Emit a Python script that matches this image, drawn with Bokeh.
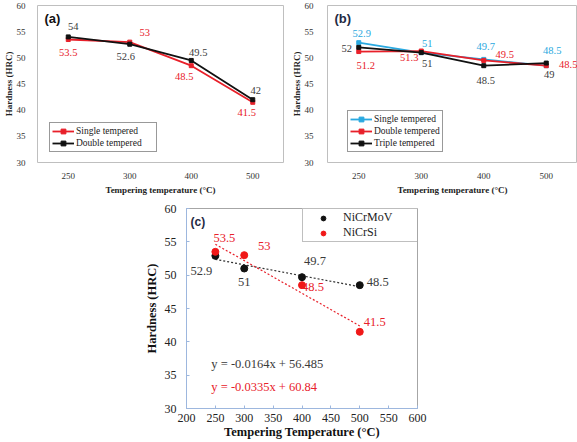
from bokeh.plotting import figure
from bokeh.models import Legend, LegendItem, Label, FactorRange, Range1d, Spacer
from bokeh.layouts import row, column
from bokeh.embed import file_html
from bokeh.resources import INLINE
from bokeh.core.properties import value
import numpy as np

# ---------------- data ----------------
temps_ab = ["250", "300", "400", "500"]
a_single = [53.5, 53.0, 48.5, 41.5]
a_double = [54.0, 52.6, 49.5, 42.0]
b_single = [52.9, 51.0, 49.7, 48.5]
b_double = [51.2, 51.3, 49.5, 48.5]
b_triple = [52.0, 51.0, 48.5, 49.0]
temps_c = [250, 300, 400, 500]
c_nicrmov = [52.9, 51.0, 49.7, 48.5]
c_nicrsi = [53.5, 53.0, 48.5, 41.5]
eq_nicrmov = "y = -0.0164x + 56.485"
eq_nicrsi = "y = -0.0335x + 60.84"
y_ticks = [30, 35, 40, 45, 50, 55, 60]
x_ticks_c = [200, 250, 300, 350, 400, 450, 500, 550, 600]

# ---------------- styles ----------------
SERIF = "Liberation Serif"
SANS = "Liberation Sans"
RED = "#E8202A"
BLACK = "#111111"
BLUE = "#2AA9E0"
DARK = "#3A3A3A"
NAVY = "#1F2A44"


def fmt(v):
    return f"{v:g}"


def style_ab(p):
    p.xgrid.visible = False
    p.ygrid.visible = False
    p.outline_line_color = "#BFBFBF"
    p.background_fill_color = "white"
    p.border_fill_color = "white"
    for ax in p.axis:
        ax.axis_line_color = None
        ax.major_tick_line_color = None
        ax.minor_tick_line_color = None
        ax.major_label_text_font = SERIF
        ax.major_label_text_font_size = "9px"
        ax.major_label_text_color = "#333333"
        ax.axis_label_text_font = SERIF
        ax.axis_label_text_font_style = "bold"
        ax.axis_label_text_font_size = "9px"
        ax.axis_label_text_color = "#222222"
    p.yaxis.ticker = y_ticks
    p.xaxis.major_label_standoff = 4
    p.xaxis.axis_label_standoff = 3
    p.yaxis.major_label_standoff = 6
    p.yaxis.axis_label_standoff = 0
    p.xaxis.axis_label = "Tempering temperature (°C)"
    p.yaxis.axis_label = "Hardness (HRC)"


def series_line(p, vals, color):
    ln = p.line(temps_ab, vals, line_color=color, line_width=1.8)
    sc = p.scatter(temps_ab, vals, marker="square", size=4, color=color)
    return [ln, sc]


def labels(p, xs, vals, color, dx, dy, size="10.5px"):
    p.text(x=xs, y=vals, text=[fmt(v) for v in vals], x_offset=dx, y_offset=dy,
           text_align="center", text_baseline="middle", text_font=value(SERIF),
           text_font_size=size, text_color=color)


def small_legend(items, loc, label_width):
    leg = Legend(items=items, location=loc, border_line_color="#333333", border_line_width=1,
                 label_text_font=SERIF, label_text_font_size="9.5px", label_text_color="#222222",
                 glyph_width=22, glyph_height=12, label_height=12, label_standoff=2,
                 label_width=label_width, padding=2, spacing=0, margin=0,
                 background_fill_alpha=1)
    return leg


# ---------------- panel (a) ----------------
pa = figure(x_range=FactorRange(factors=temps_ab), y_range=Range1d(30, 60), width=288, height=198,
            output_backend="svg", toolbar_location=None,
            min_border_left=25, min_border_right=5, min_border_top=5, min_border_bottom=36)
style_ab(pa)
ra1 = series_line(pa, a_single, RED)
ra2 = series_line(pa, a_double, BLACK)
labels(pa, temps_ab, a_single, RED, [0, 15, -7, -6], [13, -10, 11, 10])
labels(pa, temps_ab, a_double, DARK, [5, -4, 7, 3], [-10, 12, -8, -9])
pa.add_layout(small_legend([LegendItem(label="Single tempered", renderers=ra1),
                            LegendItem(label="Double tempered", renderers=ra2)], (12, 10), 78))
pa.add_layout(Label(x=7, y=144, x_units="screen", y_units="screen", text="(a)",
                    text_font=SANS, text_font_style="bold", text_font_size="13px",
                    text_baseline="middle", text_color=BLACK))

# ---------------- panel (b) ----------------
pb = figure(x_range=FactorRange(factors=temps_ab), y_range=Range1d(30, 60), width=289, height=198,
            output_backend="svg", toolbar_location=None,
            min_border_left=29, min_border_right=0, min_border_top=5, min_border_bottom=36)
style_ab(pb)
pb.yaxis.major_label_standoff = 8
rb1 = series_line(pb, b_single, BLUE)
rb2 = series_line(pb, b_double, RED)
rb3 = series_line(pb, b_triple, BLACK)
labels(pb, temps_ab, b_single, BLUE, [3, 6, 2, 6], [-9, -9, -13, -15])
labels(pb, temps_ab, b_double, RED, [7, -12, 21, 22], [14, 6, -6, -1])
labels(pb, temps_ab, b_triple, DARK, [-12, 6, 2, 3], [1, 11, 15, 11])
pb.add_layout(small_legend([LegendItem(label="Single tempered", renderers=rb1),
                            LegendItem(label="Double tempered", renderers=rb2),
                            LegendItem(label="Triple tempered", renderers=rb3)], (20, 10), 60))
pb.add_layout(Label(x=7, y=144, x_units="screen", y_units="screen", text="(b)",
                    text_font=SANS, text_font_style="bold", text_font_size="13px",
                    text_baseline="middle", text_color=NAVY))

# ---------------- panel (c) ----------------
pc = figure(x_range=Range1d(200, 600), y_range=Range1d(30, 60), width=290, height=244,
            output_backend="svg", toolbar_location=None,
            min_border_left=46, min_border_right=13, min_border_top=10, min_border_bottom=34)
pc.xgrid.visible = False
pc.ygrid.visible = False
pc.outline_line_color = "#A6A6A6"
for ax in pc.axis:
    ax.axis_line_color = "#9DB7DE"
    ax.major_tick_line_color = "#9DB7DE"
    ax.major_tick_in = 3
    ax.major_tick_out = 0
    ax.minor_tick_line_color = None
    ax.major_label_text_font = SERIF
    ax.major_label_text_font_size = "12px"
    ax.major_label_text_color = "#222222"
    ax.axis_label_text_font = SERIF
    ax.axis_label_text_font_style = "bold"
    ax.axis_label_text_font_size = "12.5px"
    ax.axis_label_text_color = "#111111"
pc.xaxis.ticker = x_ticks_c
pc.yaxis.ticker = y_ticks
pc.xaxis.major_label_standoff = 5
pc.xaxis.axis_label_standoff = 0
pc.yaxis.major_label_standoff = 10
pc.yaxis.axis_label_standoff = 3
pc.xaxis.axis_label = "Tempering Temperature (°C)"
pc.yaxis.axis_label = "Hardness (HRC)"

for vals, color in ((c_nicrmov, "#333333"), (c_nicrsi, RED)):
    coef = np.polyfit(temps_c, vals, 1)
    xs = [min(temps_c), max(temps_c)]
    pc.line(xs, list(np.polyval(coef, xs)), line_color=color, line_width=1.2, line_dash="2 2")

rc1 = pc.scatter(temps_c, c_nicrmov, marker="circle", size=7, color=BLACK)
rc2 = pc.scatter(temps_c, c_nicrsi, marker="circle", size=7, color="#F01818")
labels(pc, temps_c, c_nicrsi, RED, [9, 20, 11, 15], [-14, -9, 2, -10], size="12.5px")
labels(pc, temps_c, c_nicrmov, DARK, [-14, 0, 13, 18], [15, 13, -16, -3], size="12.5px")

pc.add_layout(Label(x=243, y=36.7, text=eq_nicrmov, text_font=SERIF, text_font_size="12.5px",
                    text_baseline="middle", text_color=DARK))
pc.add_layout(Label(x=243, y=33.2, text=eq_nicrsi, text_font=SERIF, text_font_size="12.5px",
                    text_baseline="middle", text_color=RED))
pc.add_layout(Label(x=4, y=187, x_units="screen", y_units="screen", text="(c)",
                    text_font=SANS, text_font_style="bold", text_font_size="12px",
                    text_baseline="middle", text_color=NAVY))
legc = Legend(items=[LegendItem(label="NiCrMoV", renderers=[rc1]),
                     LegendItem(label="NiCrSi", renderers=[rc2])],
              location=(116, 166), border_line_color="#808080", border_line_width=1,
              label_text_font=SERIF, label_text_font_size="12px", label_text_color="#222222",
              glyph_width=38, glyph_height=12, label_height=12, label_standoff=1,
              label_width=74, padding=1, spacing=0, margin=0)
pc.add_layout(legc)

layout = column(row(pa, pb), row(Spacer(width=140, height=244), pc))
open("out.html", "w").write(file_html(layout, INLINE))
